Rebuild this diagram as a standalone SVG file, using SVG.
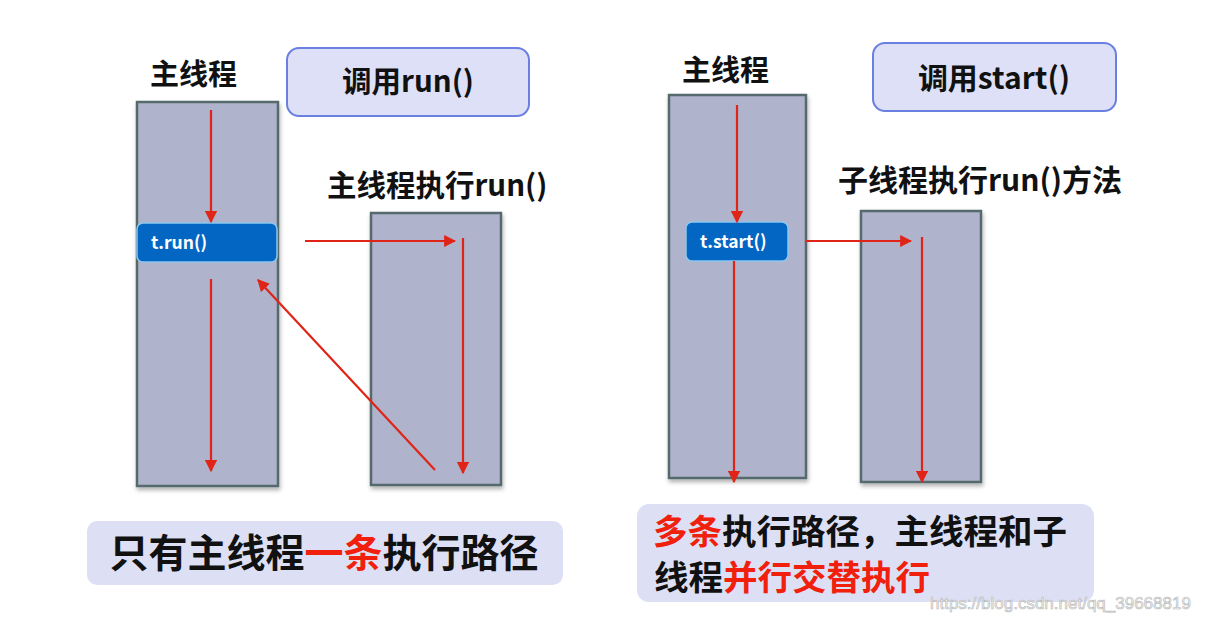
<svg xmlns="http://www.w3.org/2000/svg" width="1221" height="621" viewBox="0 0 1221 621">
<style>
.lbl{font-family:"Noto Sans CJK SC","Noto Sans",sans-serif;font-weight:bold;fill:#111}
.thread{fill:#afb3cb;stroke:#566a6e;stroke-width:2.5}
.call{fill:#dde0f7;stroke:#6a7fe2;stroke-width:2}
.btn{fill:#0366c2;stroke:#8cc8ef;stroke-width:1.5}
.btntxt{font-family:"Noto Sans CJK SC","Open Sans",sans-serif;font-weight:bold;fill:#fff;font-size:17.5px}
.note{fill:#dde0f5}
.big{font-family:"Noto Sans CJK SC",sans-serif;font-weight:bold;fill:#111}
.red{fill:#f0200c}
.arr{stroke:#e02418;stroke-width:2.2;fill:none;marker-end:url(#ah)}
</style>
<defs>
<marker id="ah" viewBox="0 0 10 10" refX="9" refY="5" markerWidth="5.5" markerHeight="5.5" orient="auto" markerUnits="strokeWidth">
<path d="M0,0 L10,5 L0,10 z" fill="#e02418"/>
</marker>
<filter id="sh" x="-10%" y="-10%" width="130%" height="130%">
<feDropShadow dx="1" dy="3" stdDeviation="2" flood-color="#000" flood-opacity="0.3"/>
</filter>
</defs>
<rect width="1221" height="621" fill="#fff"/>

<g id="left-main-label"><text class="lbl" x="150" y="85" font-size="29">主线程</text></g>
<g id="left-main-thread"><rect class="thread" x="137" y="102" width="141" height="384" filter="url(#sh)"/></g>
<g id="call-run"><rect class="call" x="287" y="48" width="242" height="68" rx="12"/>
<text class="lbl" x="408" y="92" font-size="29.5" text-anchor="middle">调用run()</text></g>
<g id="left-sub-label"><text class="lbl" x="327" y="196" font-size="29.5">主线程执行run()</text></g>
<g id="left-sub-thread"><rect class="thread" x="371" y="213" width="130" height="272" filter="url(#sh)"/></g>
<g id="t-run"><rect class="btn" x="137" y="223" width="140" height="39" rx="6"/>
<text class="btntxt" x="151" y="249">t.run()</text></g>

<g id="right-main-label"><text class="lbl" x="682" y="81" font-size="29">主线程</text></g>
<g id="right-main-thread"><rect class="thread" x="669" y="95" width="137" height="383" filter="url(#sh)"/></g>
<g id="call-start"><rect class="call" x="873" y="43" width="243" height="68" rx="12"/>
<text class="lbl" x="994" y="89" font-size="30" text-anchor="middle">调用start()</text></g>
<g id="right-sub-label"><text class="lbl" x="838" y="191" font-size="30">子线程执行run()方法</text></g>
<g id="right-sub-thread"><rect class="thread" x="861" y="211" width="120" height="271" filter="url(#sh)"/></g>
<g id="t-start"><rect class="btn" x="686" y="222" width="102" height="39" rx="6"/>
<text class="btntxt" x="700" y="248">t.start()</text></g>

<g id="connectors">
<line class="arr" x1="211" y1="110" x2="211" y2="222"/>
<line class="arr" x1="211" y1="279" x2="211" y2="471"/>
<line class="arr" x1="305" y1="241" x2="455" y2="241"/>
<line class="arr" x1="463" y1="238" x2="463" y2="473"/>
<line class="arr" x1="435" y1="470" x2="258" y2="280"/>
<line class="arr" x1="737" y1="105" x2="737" y2="222"/>
<line class="arr" x1="734" y1="261" x2="734" y2="482"/>
<line class="arr" x1="806" y1="241" x2="911" y2="241"/>
<line class="arr" x1="922" y1="237" x2="922" y2="482"/>
</g>

<g id="note-left"><rect class="note" x="87" y="521" width="476" height="64" rx="10"/>
<text class="big" x="324" y="567" font-size="39" text-anchor="middle">只有主线程<tspan class="red">一条</tspan>执行路径</text></g>

<g id="note-right"><rect class="note" x="637" y="504" width="457" height="98" rx="12"/>
<text class="big" x="653" y="544" font-size="34.5"><tspan class="red">多条</tspan>执行路径，主线程和子</text>
<text class="big" x="654" y="590" font-size="34.5">线程<tspan class="red">并行交替执行</tspan></text></g>

<text x="930" y="609" font-family="Liberation Sans, sans-serif" font-size="17" fill="#eeeeee" stroke="#b8b8b8" stroke-width="0.6">https://blog.csdn.net/qq_39668819</text>
</svg>
